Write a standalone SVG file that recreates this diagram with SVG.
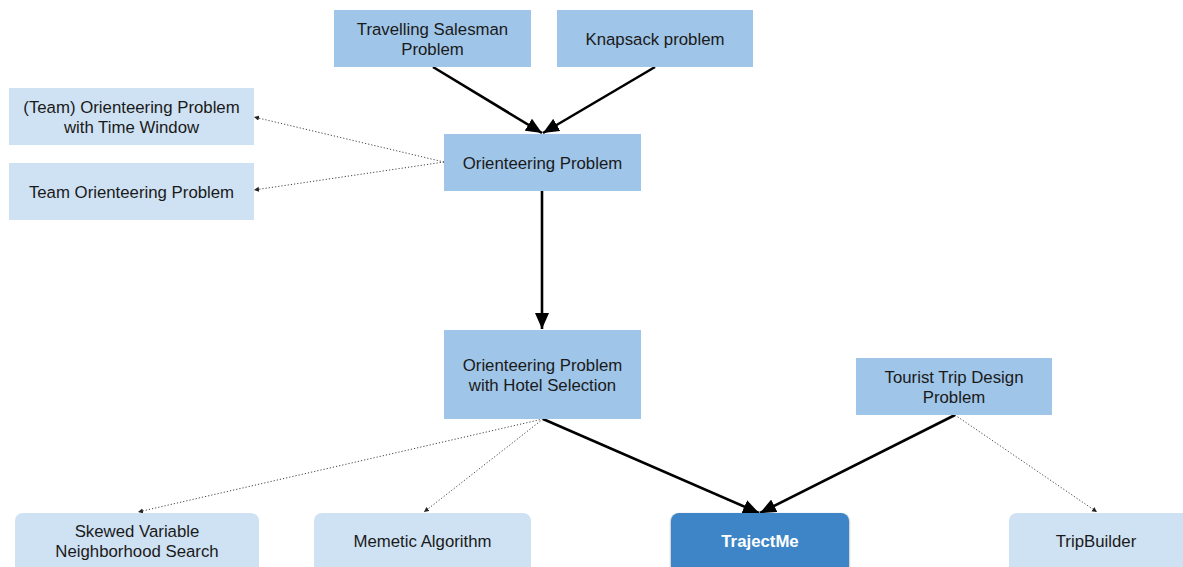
<svg xmlns="http://www.w3.org/2000/svg" width="1183" height="567" viewBox="0 0 1183 567">
<defs>
<marker id="ah" markerUnits="userSpaceOnUse" markerWidth="17" markerHeight="14" refX="16" refY="7" orient="auto">
<path d="M0,0 L16,7 L0,14 z" fill="#000"/>
</marker>
<marker id="ahs" markerUnits="userSpaceOnUse" markerWidth="6" markerHeight="6" refX="5" refY="2.5" orient="auto">
<path d="M0,0 L5,2.5 L0,5 z" fill="#222"/>
</marker>
<filter id="sh" x="-5%" y="-10%" width="110%" height="130%">
<feGaussianBlur in="SourceAlpha" stdDeviation="1"/>
<feOffset dx="0" dy="0.5" result="b"/>
<feComponentTransfer><feFuncA type="linear" slope="0.5"/></feComponentTransfer>
<feMerge><feMergeNode/><feMergeNode in="SourceGraphic"/></feMerge>
</filter>
</defs>
<style>
.mid{fill:#9fc5e8;}
.lt{fill:#cfe2f3;}
.dk{fill:#3d85c6;}
text{font-family:"Liberation Sans",Arial,sans-serif;font-size:16.8px;fill:#1a1a1a;text-anchor:middle;}
.w{fill:#fff;font-weight:bold;}
.solid{stroke:#000;stroke-width:2.6;fill:none;marker-end:url(#ah);}
.dot{stroke:#444;stroke-width:1;stroke-dasharray:1.2 2;fill:none;marker-end:url(#ahs);}
</style>
<rect width="1183" height="567" fill="#fff"/>
<g id="connectors">
<line class="solid" x1="433" y1="67" x2="542" y2="133"/>
<line class="solid" x1="655" y1="67" x2="543" y2="133"/>
<line class="solid" x1="542" y1="191" x2="542" y2="329"/>
<line class="solid" x1="543" y1="419" x2="759" y2="513"/>
<line class="solid" x1="955" y1="415" x2="760" y2="513"/>
<line class="dot" x1="444" y1="162" x2="254" y2="117"/>
<line class="dot" x1="444" y1="162" x2="254" y2="190"/>
<line class="dot" x1="543" y1="419" x2="138" y2="512"/>
<line class="dot" x1="543" y1="419" x2="424" y2="512"/>
<line class="dot" x1="955" y1="415" x2="1097" y2="512"/>
</g>
<g id="tsp">
<rect class="mid" x="334" y="10" width="197" height="57"/>
<text x="432.5" y="35">Travelling Salesman</text>
<text x="432.5" y="55">Problem</text>
</g>
<g id="knapsack">
<rect class="mid" x="557" y="10" width="196" height="57"/>
<text x="655" y="45">Knapsack problem</text>
</g>
<g id="op">
<rect class="mid" x="444" y="134" width="197" height="57"/>
<text x="542.5" y="169">Orienteering Problem</text>
</g>
<g id="toptw">
<rect class="lt" x="9" y="88" width="245" height="57"/>
<text x="131.5" y="113">(Team) Orienteering Problem</text>
<text x="131.5" y="133">with Time Window</text>
</g>
<g id="top">
<rect class="lt" x="9" y="163" width="245" height="57"/>
<text x="131.5" y="198">Team Orienteering Problem</text>
</g>
<g id="ophs">
<rect class="mid" x="444" y="330" width="197" height="89"/>
<text x="542.5" y="371">Orienteering Problem</text>
<text x="542.5" y="391">with Hotel Selection</text>
</g>
<g id="ttdp">
<rect class="mid" x="856" y="358" width="196" height="57"/>
<text x="954" y="383">Tourist Trip Design</text>
<text x="954" y="403">Problem</text>
</g>
<g id="svns">
<rect class="lt" x="15" y="513" width="244" height="64" rx="8"/>
<text x="137" y="537">Skewed Variable</text>
<text x="137" y="557">Neighborhood Search</text>
</g>
<g id="memetic">
<rect class="lt" x="314" y="513" width="217" height="64" rx="8"/>
<text x="422.5" y="547">Memetic Algorithm</text>
</g>
<g id="trajectme">
<rect class="dk" x="671" y="513" width="178" height="64" rx="8" filter="url(#sh)"/>
<text class="w" x="760" y="547">TrajectMe</text>
</g>
<g id="tripbuilder">
<rect class="lt" x="1009" y="513" width="184" height="64" rx="8"/>
<text x="1096" y="547">TripBuilder</text>
</g>
</svg>
